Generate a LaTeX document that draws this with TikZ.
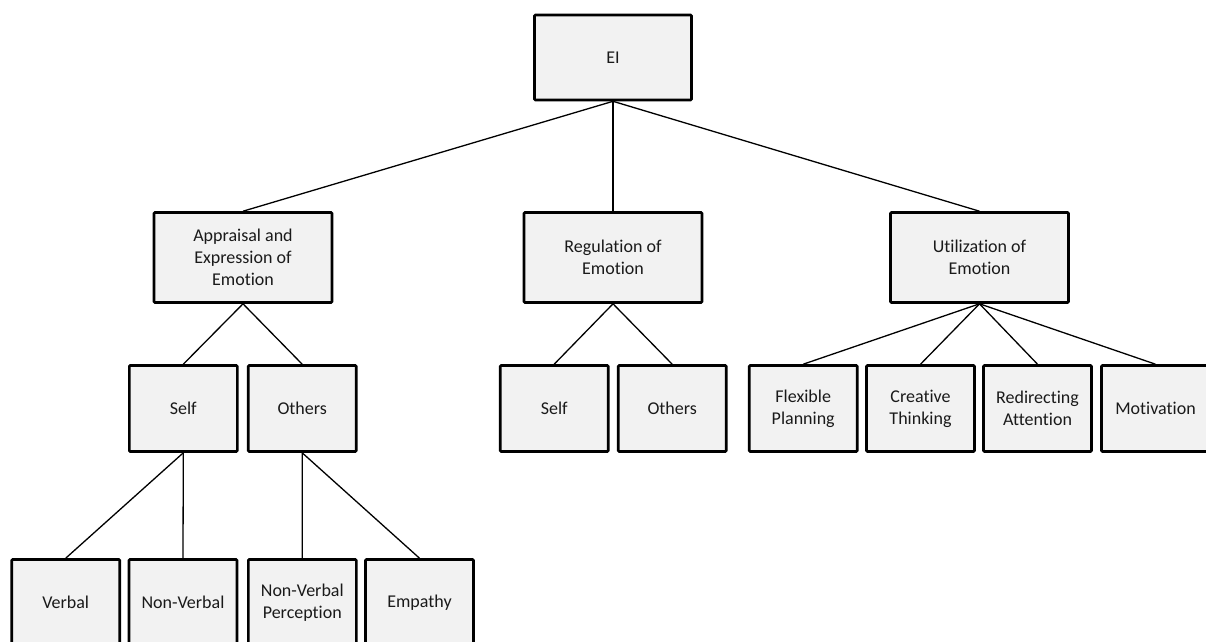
\documentclass[tikz,border=0pt]{standalone}
\usepackage{fontspec}
\setmainfont{Carlito}[Ligatures={NoCommon}]
\definecolor{boxfill}{HTML}{F2F2F2}
\definecolor{ink}{HTML}{1A1A1A}
\begin{document}
\begin{tikzpicture}[x=1pt,y=-1pt,
  box/.style={draw=black, fill=boxfill, line width=2.6pt, rounded corners=1pt,
    align=center, inner sep=0pt, text=ink,
    font=\fontsize{18}{22}\selectfont},
  rootbox/.style={box, minimum width=157pt, minimum height=85pt},
  branchbox/.style={box, minimum width=178pt, minimum height=90pt},
  leafbox/.style={box, minimum width=108pt, minimum height=86pt},
  link/.style={line width=1.3pt, draw=black}]
\useasboundingbox (0,0) rectangle (1206,641);
\clip (0,0) rectangle (1206,641);

% root
\node[rootbox] (ei) at (613,57.5) {EI};

% three branches
\node[branchbox] (app) at (243,257.5) {Appraisal and\\Expression of\\Emotion};
\node[branchbox] (reg) at (613,257.5) {Regulation of\\Emotion};
\node[branchbox] (uti) at (979.5,257.5) {Utilization of\\Emotion};

% second level
\node[leafbox] (aself)   at (183.3,408.5) {Self};
\node[leafbox] (aothers) at (302.2,408.5) {Others};
\node[leafbox] (rself)   at (554.2,408.5) {Self};
\node[leafbox] (rothers) at (672.2,408.5) {Others};
\node[leafbox] (flex)    at (803.2,408.5) {Flexible\\Planning};
\node[leafbox] (creat)   at (920.5,408.5) {Creative\\Thinking};
\node[leafbox] (redir)   at (1037.5,408.5) {Redirecting\\Attention};
\node[leafbox] (motiv)   at (1155.5,408.5) {Motivation};

% third level
\node[leafbox] (verbal)  at (65.7,602.5) {Verbal};
\node[leafbox] (nonverb) at (183,602.5) {Non-Verbal};
\node[leafbox] (nvperc)  at (302.3,602.5) {Non-Verbal\\Perception};
\node[leafbox] (empathy) at (419.5,602.5) {Empathy};

% connectors
\draw[link] (ei.south) -- (app.north);
\draw[link] (ei.south) -- (reg.north);
\draw[link] (ei.south) -- (uti.north);
\draw[link] (app.south) -- (aself.north);
\draw[link] (app.south) -- (aothers.north);
\draw[link] (reg.south) -- (rself.north);
\draw[link] (reg.south) -- (rothers.north);
\draw[link] (uti.south) -- (flex.north);
\draw[link] (uti.south) -- (creat.north);
\draw[link] (uti.south) -- (redir.north);
\draw[link] (uti.south) -- (motiv.north);
\draw[link] (aself.south) -- (verbal.north);
\draw[link] (aself.south) -- (nonverb.north);
\draw[link] (aothers.south) -- (nvperc.north);
\draw[link] (aothers.south) -- (empathy.north);
\end{tikzpicture}
\end{document}
